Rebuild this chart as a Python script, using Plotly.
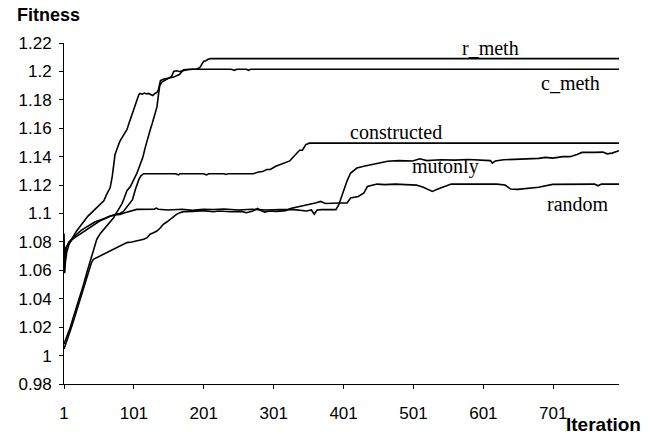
import plotly.graph_objects as go

# Best-fitness traces per search method (iteration, fitness) sampled along each run
r_meth_it = [1, 5, 10, 15, 19, 24, 29, 34, 38, 43, 48, 53, 60, 67, 72, 76, 80, 84, 88, 91,
             96, 100, 105, 110, 114, 117, 120, 122, 125, 127, 130, 134, 136, 138, 141, 143,
             147, 151, 155, 158, 162, 166, 172, 178, 185, 190, 195, 198, 201, 204, 207, 211,
             216, 795]
r_meth_fit = [1.0082, 1.013, 1.020, 1.028, 1.034, 1.042, 1.050, 1.059, 1.066, 1.075, 1.082,
              1.086, 1.090, 1.0945, 1.097, 1.1005, 1.104, 1.107, 1.112, 1.116, 1.119, 1.123,
              1.128, 1.1345, 1.140, 1.146, 1.152, 1.156, 1.160, 1.163, 1.168, 1.175, 1.183,
              1.190, 1.1925, 1.193, 1.1945, 1.1955, 1.1965, 1.200, 1.2005, 1.200, 1.2008,
              1.2012, 1.2015, 1.2015, 1.2025, 1.205, 1.2072, 1.2075, 1.2085, 1.209, 1.209, 1.209]

c_meth_it = [1, 2, 4, 8, 12, 19, 24, 29, 35, 43, 48, 53, 58, 62, 67, 70, 72, 74, 78, 81, 86,
             91, 95, 98, 102, 105, 108, 110, 113, 116, 119, 122, 125, 128, 131, 134, 136, 139,
             143, 148, 153, 158, 162, 166, 169, 172, 180, 240, 245, 248, 262, 265, 268, 795]
c_meth_fit = [1.0596, 1.066, 1.076, 1.080, 1.082, 1.0877, 1.091, 1.0947, 1.098, 1.1018, 1.104,
              1.1064, 1.109, 1.1135, 1.1181, 1.126, 1.1322, 1.1415, 1.147, 1.1509, 1.155, 1.159,
              1.165, 1.1696, 1.176, 1.1801, 1.1836, 1.1845, 1.184, 1.1848, 1.1842, 1.1845,
              1.1838, 1.183, 1.1845, 1.1852, 1.187, 1.1935, 1.1945, 1.195, 1.1952, 1.196, 1.197,
              1.1978, 1.1995, 1.2012, 1.2015, 1.2015, 1.2008, 1.2015, 1.2015, 1.2008, 1.2015,
              1.2015]

constructed_it = [1, 2, 3, 5, 8, 10, 15, 20, 25, 30, 38, 45, 53, 60, 67, 75, 81, 86, 91, 95,
                  99, 103, 106, 108, 111, 115, 160, 165, 167, 200, 205, 208, 230, 233, 236,
                  255, 262, 272, 278, 285, 291, 296, 304, 311, 318, 324, 328, 333, 338, 342,
                  347, 352, 400, 405, 408, 560, 563, 566, 795]
constructed_fit = [1.086, 1.058, 1.066, 1.073, 1.078, 1.080, 1.0835, 1.086, 1.088, 1.0895,
                   1.092, 1.094, 1.0955, 1.097, 1.098, 1.0995, 1.100, 1.1015, 1.105, 1.107,
                   1.1097, 1.1167, 1.121, 1.1238, 1.1265, 1.128, 1.128, 1.1272, 1.128, 1.128,
                   1.1272, 1.128, 1.128, 1.1275, 1.128, 1.128, 1.1285, 1.128, 1.129, 1.1295,
                   1.131, 1.131, 1.1333, 1.1345, 1.1357, 1.137, 1.1392, 1.142, 1.1445, 1.1445,
                   1.1485, 1.1495, 1.1495, 1.149, 1.1495, 1.1495, 1.149, 1.1495, 1.1495]

mutonly_it = [1, 2, 4, 8, 12, 18, 24, 30, 38, 45, 52, 60, 67, 74, 81, 88, 95, 100, 105, 130,
              133, 136, 150, 170, 185, 200, 215, 230, 250, 270, 290, 310, 330, 348, 355, 359,
              363, 370, 390, 394, 398, 401, 406, 411, 415, 420, 430, 440, 450, 458, 464, 480,
              500, 510, 520, 540, 560, 580, 600, 611, 614, 618, 630, 650, 665, 680, 690, 700,
              715, 725, 735, 742, 760, 772, 778, 785, 795]
mutonly_fit = [1.0596, 1.070, 1.076, 1.079, 1.0815, 1.0835, 1.0854, 1.0875, 1.090, 1.0925,
               1.0947, 1.0965, 1.0982, 1.099, 1.0994, 1.1005, 1.1017, 1.1025, 1.1029, 1.103,
               1.1038, 1.103, 1.1025, 1.103, 1.1022, 1.103, 1.1028, 1.1032, 1.1025, 1.103,
               1.1025, 1.1028, 1.1027, 1.1018, 1.1025, 1.0995, 1.1025, 1.1027, 1.1027, 1.106,
               1.112, 1.1167, 1.123, 1.1285, 1.130, 1.132, 1.1333, 1.1343, 1.1352, 1.136,
               1.1368, 1.1372, 1.137, 1.1385, 1.1372, 1.1378, 1.1376, 1.138, 1.1378, 1.1372,
               1.1355, 1.137, 1.1378, 1.138, 1.1385, 1.1388, 1.1395, 1.139, 1.140, 1.140,
               1.1415, 1.143, 1.143, 1.1432, 1.142, 1.1425, 1.1442]

random_it = [1, 5, 10, 15, 19, 24, 29, 33, 36, 40, 43, 48, 53, 60, 67, 74, 81, 91, 98, 105,
             110, 115, 120, 124, 129, 134, 139, 143, 148, 153, 158, 162, 167, 172, 185, 200,
             215, 222, 240, 255, 262, 270, 278, 282, 288, 295, 305, 318, 325, 340, 352, 362,
             368, 375, 395, 406, 411, 422, 430, 435, 449, 460, 475, 490, 505, 515, 528, 535,
             545, 555, 580, 620, 632, 640, 650, 665, 680, 700, 720, 760, 765, 770, 795]
random_fit = [1.0047, 1.010, 1.0175, 1.025, 1.0316, 1.040, 1.048, 1.055, 1.0596, 1.065,
              1.0678, 1.069, 1.0702, 1.072, 1.0737, 1.0755, 1.0772, 1.0795, 1.080, 1.0807,
              1.081, 1.0819, 1.083, 1.0854, 1.0865, 1.0877, 1.090, 1.0924, 1.094, 1.0959,
              1.098, 1.0994, 1.1006, 1.1013, 1.1015, 1.102, 1.1012, 1.1018, 1.1012, 1.1015,
              1.1005, 1.1015, 1.1035, 1.1022, 1.101, 1.1018, 1.1015, 1.102, 1.1035, 1.105,
              1.1065, 1.1075, 1.1085, 1.107, 1.1074, 1.1074, 1.1109, 1.112, 1.1144, 1.119,
              1.1207, 1.1203, 1.1207, 1.1205, 1.120, 1.1185, 1.1155, 1.117, 1.119, 1.1207,
              1.1207, 1.1207, 1.120, 1.1172, 1.117, 1.1175, 1.1185, 1.1205, 1.1207, 1.1207,
              1.1195, 1.1207, 1.1207]

series = [
    ("r_meth", r_meth_it, r_meth_fit),
    ("c_meth", c_meth_it, c_meth_fit),
    ("constructed", constructed_it, constructed_fit),
    ("mutonly", mutonly_it, mutonly_fit),
    ("random", random_it, random_fit),
]

# Curve labels placed next to each line (iteration, fitness)
label_names = ["r_meth", "c_meth", "constructed", "mutonly", "random"]
label_it = [611, 725, 476, 547, 737]
label_fit = [1.2164, 1.1918, 1.1575, 1.1333, 1.1069]

x_tick_vals = [1, 101, 201, 301, 401, 501, 601, 701]
x_tick_text = ["1", "101", "201", "301", "401", "501", "601", "701"]
y_tick_vals = [0.98, 1.00, 1.02, 1.04, 1.06, 1.08, 1.10, 1.12, 1.14, 1.16, 1.18, 1.20, 1.22]
y_tick_text = ["0.98", "1", "1.02", "1.04", "1.06", "1.08", "1.1", "1.12", "1.14", "1.16",
               "1.18", "1.2", "1.22"]

SANS = "Liberation Sans, Arial, sans-serif"
SERIF = "Liberation Serif, Times New Roman, serif"

fig = go.Figure()
for name, its, fits in series:
    fig.add_trace(go.Scatter(x=its, y=fits, mode="lines", name=name,
                             line=dict(color="black", width=1.6),
                             showlegend=False))

for name, xi, yi in zip(label_names, label_it, label_fit):
    fig.add_annotation(x=xi, y=yi, text=name, showarrow=False,
                       xanchor="center", yanchor="middle",
                       font=dict(family=SERIF, size=20, color="black"))

fig.add_annotation(xref="paper", yref="paper", x=-0.088, y=1.083, text="<b>Fitness</b>",
                   showarrow=False, xanchor="left", yanchor="middle",
                   font=dict(family=SANS, size=18, color="black"))
fig.add_annotation(xref="paper", yref="paper", x=0.9, y=-0.12, text="<b>Iteration</b>",
                   showarrow=False, xanchor="left", yanchor="middle",
                   font=dict(family=SANS, size=19, color="black"))

fig.update_layout(
    width=650, height=434,
    margin=dict(l=64, r=31, t=43, b=50),
    paper_bgcolor="white", plot_bgcolor="white",
    xaxis=dict(range=[1, 795], tickvals=x_tick_vals, ticktext=x_tick_text,
               showgrid=False, zeroline=False, showline=True, linecolor="black",
               linewidth=1, ticks="outside", ticklen=4, tickcolor="black",
               ticklabelstandoff=10,
               tickfont=dict(family=SANS, size=17, color="black")),
    yaxis=dict(range=[0.98, 1.22], tickvals=y_tick_vals, ticktext=y_tick_text,
               showgrid=False, zeroline=False, showline=True, linecolor="black",
               linewidth=1, ticks="outside", ticklen=4, tickcolor="black",
               ticklabelstandoff=4,
               tickfont=dict(family=SANS, size=17, color="black")),
)

fig.write_html("out.html")
